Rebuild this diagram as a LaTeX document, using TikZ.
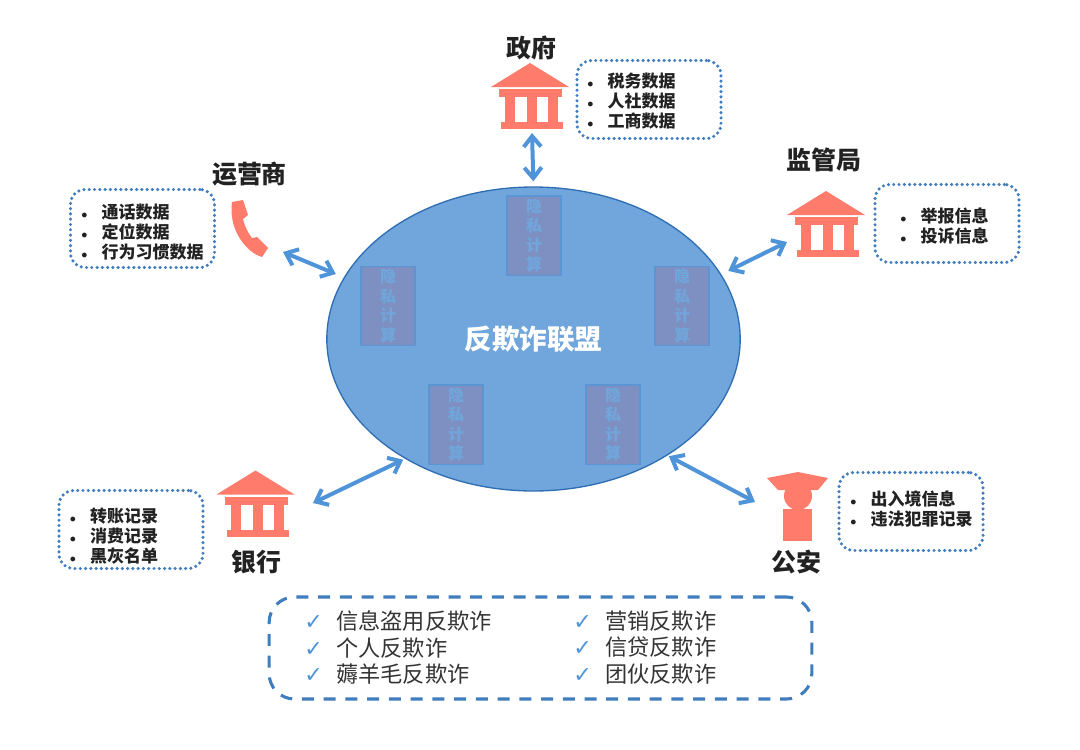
\documentclass[tikz,border=0pt]{standalone}
\usepackage{fontspec}
\usepackage{xcolor}
\usetikzlibrary{arrows.meta,shapes.geometric}
\newfontfamily\cjk{Noto Sans CJK SC}
\newfontfamily\symfont{DejaVu Sans}
\definecolor{salmon}{HTML}{FF7B6B}
\definecolor{linkblue}{HTML}{4F94D8}
\definecolor{boxblue}{HTML}{3F7DBE}
\definecolor{alliancefill}{HTML}{70A6DB}
\definecolor{allianceline}{HTML}{2F6EB4}
\definecolor{privfill}{HTML}{7E90C2}
\definecolor{privline}{HTML}{5B95D3}
\definecolor{inktext}{HTML}{222222}
\newcommand{\bul}{\makebox[15.3pt][l]{$\scriptstyle\bullet$}}
\newcommand{\chk}{\makebox[24pt][l]{\symfont\bfseries\color{linkblue}\char"2713}}
\tikzset{
  orgname/.style={font=\cjk\bfseries\fontsize{18.7}{20}\selectfont,text=inktext,inner sep=0pt},
  datalist/.style={font=\cjk\bfseries\fontsize{12.75}{15}\selectfont,text=inktext,align=left,anchor=west,inner sep=0pt},
  dotbox/.style={draw=boxblue,line width=2.6pt,line cap=round,dash pattern=on 0pt off 3.95pt,rounded corners=11pt,minimum width=108pt,minimum height=58.5pt,inner sep=0pt},
  privbox/.style={draw=privline,line width=1pt,fill=privfill,minimum width=40.5pt,minimum height=59.5pt,inner sep=0pt,align=center,text=alliancefill,font=\cjk\bfseries\fontsize{12}{14.6}\selectfont},
  linkarrow/.style={draw=linkblue,line width=3pt,{Straight Barb[length=8pt,width=13pt]}-{Straight Barb[length=8pt,width=13pt]}},
  checklist/.style={font=\cjk\fontsize{16.65}{19.9}\selectfont,text=inktext!92,align=left,anchor=west,inner sep=0pt},
  pics/bankicon/.style={code={
    \fill[salmon] (-39,24) -- (0,0) -- (39,24) -- cycle; % roof
    \fill[salmon] (-31,26) rectangle (32,34);
    \foreach \x in {-25,-3,18} % the columns
      \fill[salmon] (\x,34) rectangle +(10,25);
    \fill[salmon] (-29,59) rectangle (33,66);
  }}
}
\begin{document}
\begin{tikzpicture}[x=0.75pt,y=-0.75pt]
\useasboundingbox (0,0) rectangle (1080,749);
\node[ellipse,draw=allianceline,line width=1pt,fill=alliancefill,minimum width=310pt,minimum height=228pt,inner sep=0pt,text=white,font=\cjk\bfseries\fontsize{20.7}{22}\selectfont] (alliance) at (533.5,339) {反欺诈联盟};
\foreach \name/\x/\y in {top/534/235.5,left/388/306,right/682/306,lowleft/456/424.5,lowright/613/424.5}
\node[privbox] (priv\name) at (\x,\y) {隐\\私\\计\\算};
% the five parties
\node[orgname] (govname) at (531,48) {政府};
\node[orgname] (carriername) at (249.5,174) {运营商};
\node[orgname] (regname) at (824,160) {监管局};
\node[orgname] (bankname) at (256,562) {银行};
\node[orgname] (policename) at (796,562) {公安};
\pic at (530,63) {bankicon};
\pic at (826,191) {bankicon};
\pic at (255.5,470.5) {bankicon};
% phone
\fill[salmon] (232,202) -- (243,200) -- (248,215) -- (243,219) .. controls (245,227) and (248,233) .. (252,238) -- (257,237) -- (268,248) -- (262,257) .. controls (247,253) and (228,230) .. cycle;
% police
\fill[salmon] (767,478) -- (798,472) -- (828,478) -- (818,490) -- (778,490) -- cycle;
\fill[salmon] (798,496) circle (14);
\fill[salmon] (783,509) rectangle (812,541);
% data boxes
\node[dotbox] (govbox) at (649,99.5) {};
\node[dotbox] (carrierbox) at (142.5,228.5) {};
\node[dotbox] (regbox) at (947,223.5) {};
\node[dotbox] (bankbox) at (131,529.5) {};
\node[dotbox] (policebox) at (911,511.5) {};
\node[datalist] (govlist) at (587,101.5) {\bul 税务数据\\\bul 人社数据\\\bul 工商数据};
\node[datalist] (carrierlist) at (81,232) {\bul 通话数据\\\bul 定位数据\\\bul 行为习惯数据};
\node[datalist] (reglist) at (900,226) {\bul 举报信息\\\bul 投诉信息};
\node[datalist] (banklist) at (69.5,536.5) {\bul 转账记录\\\bul 消费记录\\\bul 黑灰名单};
\node[datalist] (policelist) at (850,508.5) {\bul 出入境信息\\\bul 违法犯罪记录};
% connectors
\coordinate (govport) at (532,133);
\coordinate (carrierport) at (283,252);
\coordinate (regport) at (787,242);
\coordinate (bankport) at (313,503);
\coordinate (policeport) at (755,502);
\draw[linkarrow,shorten >=3.75pt] (govport) -- (alliance.90);
\draw[linkarrow,shorten >=6.5pt] (carrierport) -- (alliance.162.65);
\draw[linkarrow,shorten >=5.8pt] (regport) -- (alliance.19.8);
\draw[linkarrow,shorten >=1.5pt] (bankport) -- (alliance.223.6);
\draw[linkarrow,shorten >=1.1pt] (policeport) -- (alliance.319);
% bottom list
\node[draw=boxblue,line width=2.3pt,dash pattern=on 9pt off 7.3pt,rounded corners=19pt,minimum width=407pt,minimum height=76.5pt,inner sep=0pt] (scenebox) at (540.5,648) {};
\node[checklist] (sceneleft) at (304,647.5) {\chk 信息盗用反欺诈\\\chk 个人反欺诈\\\chk 薅羊毛反欺诈};
\node[checklist] (sceneright) at (573,647.5) {\chk 营销反欺诈\\\chk 信贷反欺诈\\\chk 团伙反欺诈};
\end{tikzpicture}
\end{document}
